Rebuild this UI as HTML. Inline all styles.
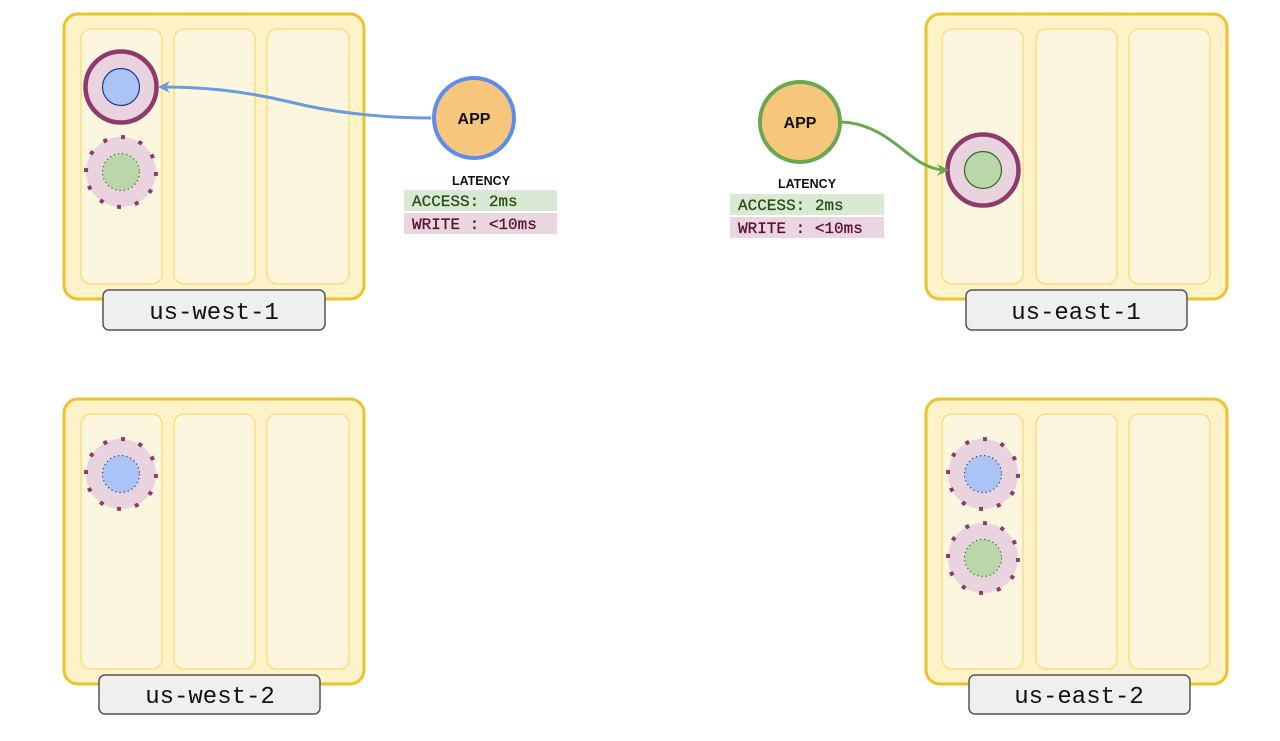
<!DOCTYPE html>
<html><head><meta charset="utf-8"><style>
html,body{margin:0;padding:0;background:#fff;}
svg{display:block;}
.mono{font-family:"Liberation Mono",monospace;}
.sans{font-family:"Liberation Sans",sans-serif;}
</style></head><body>
<svg width="1280" height="741" viewBox="0 0 1280 741" xmlns="http://www.w3.org/2000/svg">
<defs>
<marker id="arrB" markerWidth="12" markerHeight="12" refX="9" refY="6" orient="auto" markerUnits="userSpaceOnUse"><path d="M0,0 L12,6 L0,12 L4,6 Z" fill="#6a9be0"/></marker>
<marker id="arrG" markerWidth="12" markerHeight="12" refX="9" refY="6" orient="auto" markerUnits="userSpaceOnUse"><path d="M0,0 L12,6 L0,12 L4,6 Z" fill="#6aa84f"/></marker>
</defs>

<!-- us-west-1 -->
<g>
<rect x="64" y="14" width="300" height="285" rx="14" fill="#fdf2c8" stroke="#e9c42c" stroke-width="3"/>
<rect x="81" y="29" width="81" height="255" rx="10" fill="#fcf6de" stroke="#f8df80" stroke-width="1.5"/>
<rect x="174" y="29" width="81" height="255" rx="10" fill="#fcf6de" stroke="#f8df80" stroke-width="1.5"/>
<rect x="267" y="29" width="82" height="255" rx="10" fill="#fcf6de" stroke="#f8df80" stroke-width="1.5"/>
<rect x="103" y="290" width="222" height="40" rx="6" fill="#efefef" stroke="#555" stroke-width="1.5"/>
<text x="214" y="319" text-anchor="middle" class="mono" font-size="24" fill="#111">us-west-1</text>
<g>
<circle cx="121" cy="87" r="35.5" fill="#e8d3de" stroke="#8e3b6b" stroke-width="4.5"/>
<circle cx="121" cy="87" r="18.5" fill="#a9c4f5" stroke="#1c3d8c" stroke-width="1.2"/>
</g>
<g>
<circle cx="121" cy="172" r="35" fill="#e8d3de" stroke="#8e3b6b" stroke-width="4" stroke-dasharray="4 14.3"/>
<circle cx="121" cy="172" r="18.5" fill="#b9d7a8" stroke="#2f6e1f" stroke-width="1.2" stroke-dasharray="1.2 3"/>
</g>
</g>

<!-- us-east-1 -->
<g>
<rect x="926" y="14" width="301" height="285" rx="14" fill="#fdf2c8" stroke="#e9c42c" stroke-width="3"/>
<rect x="942" y="29" width="81" height="255" rx="10" fill="#fcf6de" stroke="#f8df80" stroke-width="1.5"/>
<rect x="1036" y="29" width="81" height="255" rx="10" fill="#fcf6de" stroke="#f8df80" stroke-width="1.5"/>
<rect x="1129" y="29" width="81" height="255" rx="10" fill="#fcf6de" stroke="#f8df80" stroke-width="1.5"/>
<rect x="966" y="290" width="221" height="40" rx="6" fill="#efefef" stroke="#555" stroke-width="1.5"/>
<text x="1076" y="319" text-anchor="middle" class="mono" font-size="24" fill="#111">us-east-1</text>
<g>
<circle cx="983" cy="170" r="35.5" fill="#e8d3de" stroke="#8e3b6b" stroke-width="4.5"/>
<circle cx="983" cy="170" r="18.5" fill="#b9d7a8" stroke="#2f6e1f" stroke-width="1.2"/>
</g>
</g>

<!-- us-west-2 -->
<g>
<rect x="64" y="399" width="300" height="285" rx="14" fill="#fdf2c8" stroke="#e9c42c" stroke-width="3"/>
<rect x="81" y="414" width="81" height="255" rx="10" fill="#fcf6de" stroke="#f8df80" stroke-width="1.5"/>
<rect x="174" y="414" width="81" height="255" rx="10" fill="#fcf6de" stroke="#f8df80" stroke-width="1.5"/>
<rect x="267" y="414" width="82" height="255" rx="10" fill="#fcf6de" stroke="#f8df80" stroke-width="1.5"/>
<rect x="99" y="675" width="221" height="39" rx="6" fill="#efefef" stroke="#555" stroke-width="1.5"/>
<text x="210" y="703" text-anchor="middle" class="mono" font-size="24" fill="#111">us-west-2</text>
<g>
<circle cx="121" cy="474" r="35" fill="#e8d3de" stroke="#8e3b6b" stroke-width="4" stroke-dasharray="4 14.3"/>
<circle cx="121" cy="474" r="18.5" fill="#a9c4f5" stroke="#1c3d8c" stroke-width="1.2" stroke-dasharray="1.2 3"/>
</g>
</g>

<!-- us-east-2 -->
<g>
<rect x="926" y="399" width="301" height="285" rx="14" fill="#fdf2c8" stroke="#e9c42c" stroke-width="3"/>
<rect x="942" y="414" width="81" height="255" rx="10" fill="#fcf6de" stroke="#f8df80" stroke-width="1.5"/>
<rect x="1036" y="414" width="81" height="255" rx="10" fill="#fcf6de" stroke="#f8df80" stroke-width="1.5"/>
<rect x="1129" y="414" width="81" height="255" rx="10" fill="#fcf6de" stroke="#f8df80" stroke-width="1.5"/>
<rect x="969" y="675" width="221" height="39" rx="6" fill="#efefef" stroke="#555" stroke-width="1.5"/>
<text x="1079" y="703" text-anchor="middle" class="mono" font-size="24" fill="#111">us-east-2</text>
<g>
<circle cx="983" cy="474" r="35" fill="#e8d3de" stroke="#8e3b6b" stroke-width="4" stroke-dasharray="4 14.3"/>
<circle cx="983" cy="474" r="18.5" fill="#a9c4f5" stroke="#1c3d8c" stroke-width="1.2" stroke-dasharray="1.2 3"/>
</g>
<g>
<circle cx="983" cy="558" r="35" fill="#e8d3de" stroke="#8e3b6b" stroke-width="4" stroke-dasharray="4 14.3"/>
<circle cx="983" cy="558" r="18.5" fill="#b9d7a8" stroke="#2f6e1f" stroke-width="1.2" stroke-dasharray="1.2 3"/>
</g>
</g>

<!-- arrows -->
<path d="M431,118 C380,118 330,112 290,102 C240,90 200,87 161,87" fill="none" stroke="#6a9be0" stroke-width="3" marker-end="url(#arrB)"/>
<path d="M842,122 C880,124 900,150 920,162 C930,168 938,170 946,170" fill="none" stroke="#6aa84f" stroke-width="3" marker-end="url(#arrG)"/>

<!-- west app -->
<g>
<circle cx="474" cy="118" r="40" fill="#f6c67c" stroke="#5b8def" stroke-width="4"/>
<text x="474" y="124" text-anchor="middle" class="sans" font-size="16" font-weight="bold" fill="#111">APP</text>
</g>
<g>
<text x="481" y="185" text-anchor="middle" class="sans" font-size="12.5" font-weight="bold" fill="#111">LATENCY</text>
<rect x="404" y="190" width="153" height="21" fill="#d9e9d3"/>
<text x="412" y="206" class="mono" font-size="16" fill="#274e13" stroke="#274e13" stroke-width="0.3">ACCESS: 2ms</text>
<rect x="404" y="213" width="153" height="21" fill="#ead6e0"/>
<text x="412" y="229" class="mono" font-size="16" fill="#5b0f2e" stroke="#5b0f2e" stroke-width="0.3">WRITE : &lt;10ms</text>
</g>

<!-- east app -->
<g>
<circle cx="800" cy="122" r="40" fill="#f6c67c" stroke="#6aa84f" stroke-width="4"/>
<text x="800" y="128" text-anchor="middle" class="sans" font-size="16" font-weight="bold" fill="#111">APP</text>
</g>
<g>
<text x="807" y="188" text-anchor="middle" class="sans" font-size="12.5" font-weight="bold" fill="#111">LATENCY</text>
<rect x="730" y="194" width="154" height="21" fill="#d9e9d3"/>
<text x="738" y="210" class="mono" font-size="16" fill="#274e13" stroke="#274e13" stroke-width="0.3">ACCESS: 2ms</text>
<rect x="730" y="217" width="154" height="21" fill="#ead6e0"/>
<text x="738" y="233" class="mono" font-size="16" fill="#5b0f2e" stroke="#5b0f2e" stroke-width="0.3">WRITE : &lt;10ms</text>
</g>
</svg>
</body></html>
